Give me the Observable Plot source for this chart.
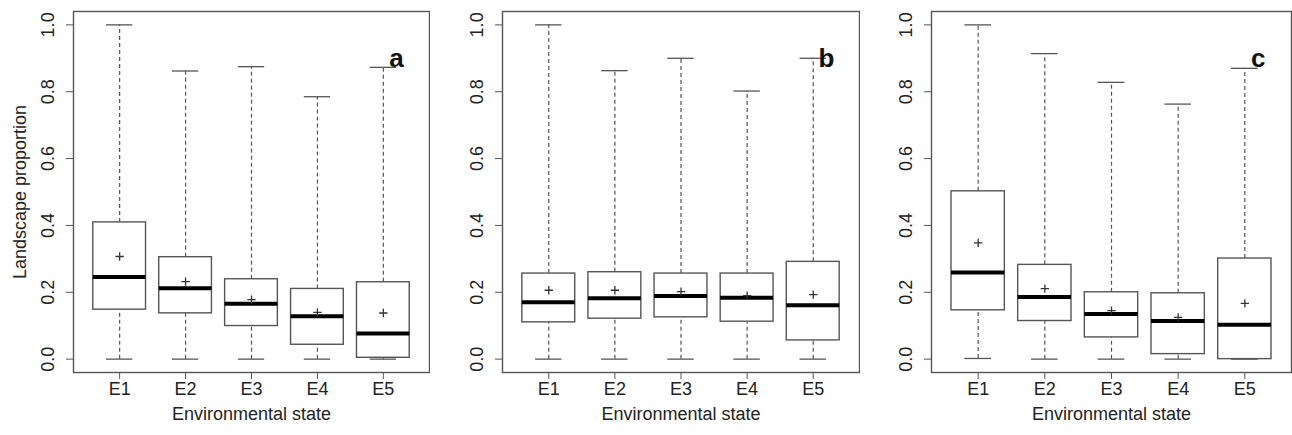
<!DOCTYPE html>
<html><head><meta charset="utf-8">
<script src="https://cdn.jsdelivr.net/npm/d3@7"></script>
<script src="https://cdn.jsdelivr.net/npm/@observablehq/plot@0.6"></script>
<style>
body{margin:0;background:#fff;}
#row{display:flex;width:1292px;height:435px;}
#row svg{display:block;}
</style></head><body><div id="row"></div>
<script>
const states = ["E1", "E2", "E3", "E4", "E5"];
const panelLabels = ["a", "b", "c"];
const yTicks = [0, 0.2, 0.4, 0.6, 0.8, 1.0];
const xTitle = "Environmental state";
const yTitle = "Landscape proportion";

// Panel a
const loA   = [0, 0, 0, 0, 0];
const q1A   = [0.148, 0.137, 0.099, 0.043, 0.004];
const medA  = [0.246, 0.212, 0.166, 0.128, 0.077];
const q3A   = [0.409, 0.305, 0.239, 0.210, 0.230];
const hiA   = [1.0, 0.862, 0.875, 0.785, 0.873];
const meanA = [0.307, 0.232, 0.178, 0.140, 0.138];

// Panel b
const loB   = [0, 0, 0, 0, 0];
const q1B   = [0.110, 0.121, 0.125, 0.112, 0.056];
const medB  = [0.170, 0.182, 0.189, 0.184, 0.161];
const q3B   = [0.256, 0.260, 0.256, 0.256, 0.291];
const hiB   = [1.0, 0.863, 0.900, 0.802, 0.900];
const meanB = [0.206, 0.206, 0.202, 0.190, 0.193];

// Panel c
const loC   = [0.002, 0, 0, 0, 0];
const q1C   = [0.146, 0.114, 0.065, 0.015, 0.0];
const medC  = [0.259, 0.186, 0.135, 0.114, 0.103];
const q3C   = [0.502, 0.282, 0.200, 0.197, 0.301];
const hiC   = [1.0, 0.914, 0.828, 0.763, 0.870];
const meanC = [0.348, 0.211, 0.145, 0.125, 0.167];

function rows(lo, q1, med, q3, hi, mean) {
  return states.map((s, i) => ({x: i + 1, state: s, lo: lo[i], q1: q1[i], med: med[i], q3: q3[i], hi: hi[i], mean: mean[i]}));
}

const font = "'Liberation Sans', Arial, Helvetica, sans-serif";

function panel(data, label, width, marginLeft, showYTitle) {
  const marks = [
    Plot.frame({stroke: "#555", strokeWidth: 1.4}),
    Plot.axisY(yTicks, {tickFormat: d3.format(".1f"), tickSize: 7, tickPadding: 13, tickRotate: -90,
      textAnchor: "middle", lineAnchor: "bottom", label: null, fontSize: 18, stroke: "#555"}),
    Plot.axisX([1, 2, 3, 4, 5], {tickFormat: d => states[d - 1], tickSize: 7, tickPadding: 3, label: null, fontSize: 18, stroke: "#555"}),
    Plot.text([xTitle], {frameAnchor: "bottom", dy: 47, fontSize: 18, fill: "#222"}),
    // whiskers
    Plot.ruleX(data, {x: "x", y1: "q3", y2: "hi", stroke: "#555", strokeWidth: 1.2, strokeDasharray: "4,3"}),
    Plot.ruleX(data, {x: "x", y1: "lo", y2: "q1", stroke: "#555", strokeWidth: 1.2, strokeDasharray: "4,3"}),
    Plot.ruleY(data, {y: "hi", x1: d => d.x - 0.2, x2: d => d.x + 0.2, stroke: "#555", strokeWidth: 1.3}),
    Plot.ruleY(data, {y: "lo", x1: d => d.x - 0.2, x2: d => d.x + 0.2, stroke: "#555", strokeWidth: 1.3}),
    // boxes
    Plot.rect(data, {x1: d => d.x - 0.4, x2: d => d.x + 0.4, y1: "q1", y2: "q3", fill: "#fff", stroke: "#555", strokeWidth: 1.4}),
    Plot.ruleY(data, {y: "med", x1: d => d.x - 0.4, x2: d => d.x + 0.4, stroke: "#000", strokeWidth: 4}),
    Plot.dot(data, {x: "x", y: "mean", symbol: "plus", r: 2.8, stroke: "#333", strokeWidth: 1.3}),
    Plot.text([label], {x: () => 5.2, y: () => 0.9, fontSize: 26, fontWeight: "bold", fill: "#111"})
  ];
  if (showYTitle) marks.push(Plot.text([yTitle], {frameAnchor: "left", dx: -53, rotate: -90, textAnchor: "middle", fontSize: 18, fill: "#222"}));
  return Plot.plot({
    width, height: 435, marginLeft, marginRight: 1, marginTop: 11, marginBottom: 63,
    x: {domain: [0.3, 5.7]},
    y: {domain: [-0.04, 1.04]},
    style: {fontFamily: font, fontSize: "17px", color: "#222", background: "#fff"},
    marks
  });
}

const row = document.getElementById("row");
row.append(panel(rows(loA, q1A, medA, q3A, hiA, meanA), panelLabels[0], 430, 73, true));
row.append(panel(rows(loB, q1B, medB, q3B, hiB, meanB), panelLabels[1], 430, 72, false));
row.append(panel(rows(loC, q1C, medC, q3C, hiC, meanC), panelLabels[2], 432, 71, false));
</script></body></html>
